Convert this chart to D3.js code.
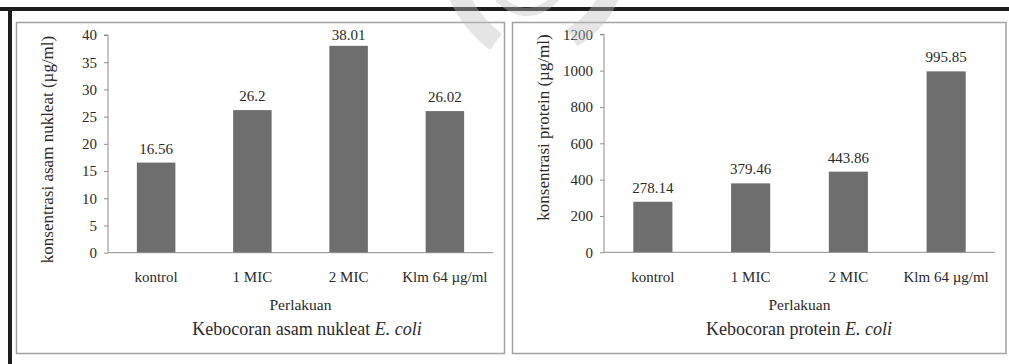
<!DOCTYPE html>
<html>
<head>
<meta charset="utf-8">
<script src="https://cdn.jsdelivr.net/npm/d3@7/dist/d3.min.js"></script>
<style>
  html, body { margin: 0; padding: 0; background: #fff; }
  svg { display: block; }
  svg text { font-family: "Liberation Serif", Tinos, "Times New Roman", "DejaVu Serif", serif !important; fill: #2a2a2a; }
</style>
</head>
<body>
<svg id="chart" width="1009" height="364"></svg>
<script>
// Treatments (shared by both panels)
const categories = ["kontrol", "1 MIC", "2 MIC", "Klm 64 \u00b5g/ml"];

// Nucleic acid leakage (µg/ml)
const nucleicValues = [16.56, 26.2, 38.01, 26.02];
const nucleicTicks = [0, 5, 10, 15, 20, 25, 30, 35, 40];

// Protein leakage (µg/ml)
const proteinValues = [278.14, 379.46, 443.86, 995.85];
const proteinTicks = [0, 200, 400, 600, 800, 1000, 1200];

const xTitle = "Perlakuan";

const svg = d3.select("#chart");
const BAR = "#6e6e6e";
const AXIS = "#8c8c8c";
const SERIF = "Liberation Serif, Tinos, Times New Roman, DejaVu Serif, serif";

// page frame: thick dark rules at top and left
svg.append("rect").attr("x", 0).attr("y", 7).attr("width", 1009).attr("height", 4).attr("fill", "#1e1e1e");
svg.append("rect").attr("x", 8).attr("y", 7).attr("width", 4).attr("height", 357).attr("fill", "#1e1e1e");

const panels = [
  {
    box: [16.5, 22.5, 488, 331],
    x0: 108, x1: 493, y0: 252.7, y1: 35,
    values: nucleicValues, ticks: nucleicTicks,
    yTitle: "konsentrasi asam nukleat (\u00b5g/ml)", yTitlePos: [48, 149.5],
    caption: "Kebocoran asam nukleat", captionX: 307
  },
  {
    box: [512.5, 22.5, 493.5, 331],
    x0: 604, x1: 995, y0: 252.3, y1: 34.3,
    values: proteinValues, ticks: proteinTicks,
    yTitle: "konsentrasi protein (\u00b5g/ml)", yTitlePos: [544, 127.5],
    caption: "Kebocoran protein", captionX: 799
  }
];

panels.forEach(p => {
  const g = svg.append("g").attr("font-family", SERIF);

  g.append("rect")
    .attr("x", p.box[0]).attr("y", p.box[1])
    .attr("width", p.box[2]).attr("height", p.box[3])
    .attr("fill", "#fff").attr("stroke", "#a2a2a2").attr("stroke-width", 1.5);

  const x = d3.scaleBand().domain(categories).range([p.x0, p.x1]).paddingInner(0.6).paddingOuter(0.3);
  const y = d3.scaleLinear().domain(d3.extent(p.ticks)).range([p.y0, p.y1]);

  // value axis
  const ya = g.append("g").attr("transform", `translate(${p.x0},0)`)
    .call(d3.axisLeft(y).tickValues(p.ticks).tickSize(4).tickPadding(7).tickFormat(d3.format("d")));
  ya.attr("font-family", SERIF);
  ya.select(".domain").attr("stroke", AXIS).attr("d", `M-4,${p.y1}H0V${p.y0}`);
  ya.selectAll(".tick line").attr("stroke", AXIS);
  ya.selectAll(".tick text").style("font-size", "15px").attr("fill", "#2a2a2a");

  // bars
  g.selectAll("rect.bar").data(p.values).join("rect")
    .attr("class", "bar")
    .attr("x", (d, i) => x(categories[i]))
    .attr("width", x.bandwidth())
    .attr("y", d => y(d))
    .attr("height", d => y(0) - y(d))
    .attr("fill", BAR);

  // value labels above bars
  g.selectAll("text.val").data(p.values).join("text")
    .attr("class", "val")
    .attr("x", (d, i) => x(categories[i]) + x.bandwidth() / 2)
    .attr("y", d => Math.max(y(d) - 9, 40))
    .attr("text-anchor", "middle")
    .style("font-size", "15px")
    .text(d => String(d));

  // category axis
  const xa = g.append("g").attr("transform", `translate(0,${p.y0})`)
    .call(d3.axisBottom(x).tickSize(0).tickPadding(19));
  xa.attr("font-family", SERIF);
  xa.select(".domain").attr("stroke", AXIS).attr("d", `M${p.x0},0H${p.x1}`);
  xa.selectAll(".tick text").style("font-size", "15px").attr("fill", "#2a2a2a");

  // axis titles
  g.append("text")
    .attr("x", (p.x0 + p.x1) / 2).attr("y", 310)
    .attr("text-anchor", "middle").style("font-size", "15.5px")
    .text(xTitle);

  g.append("text")
    .attr("transform", `translate(${p.yTitlePos[0] + 5},${p.yTitlePos[1]}) rotate(-90)`)
    .attr("text-anchor", "middle").style("font-size", "17px")
    .text(p.yTitle);

  // caption with italic organism name
  const cap = g.append("text")
    .attr("x", p.captionX).attr("y", 335)
    .attr("text-anchor", "middle").style("font-size", "18px");
  cap.append("tspan").text(p.caption + " ");
  cap.append("tspan").style("font-style", "italic").text("E. coli");
});

// faint emblem across the top edge
const mark = svg.append("g").attr("fill", "none").attr("stroke", "#bdbdbd").attr("stroke-opacity", 0.4).attr("stroke-linecap", "butt");
mark.append("path").attr("d", "M458,-6 Q470,22 496,42").attr("stroke-width", 20);
mark.append("path").attr("d", "M610,-6 Q600,20 572,38").attr("stroke-width", 20);
mark.append("path").attr("d", "M498,-2 Q527,26 556,-2").attr("stroke-width", 8);
</script>
</body>
</html>
